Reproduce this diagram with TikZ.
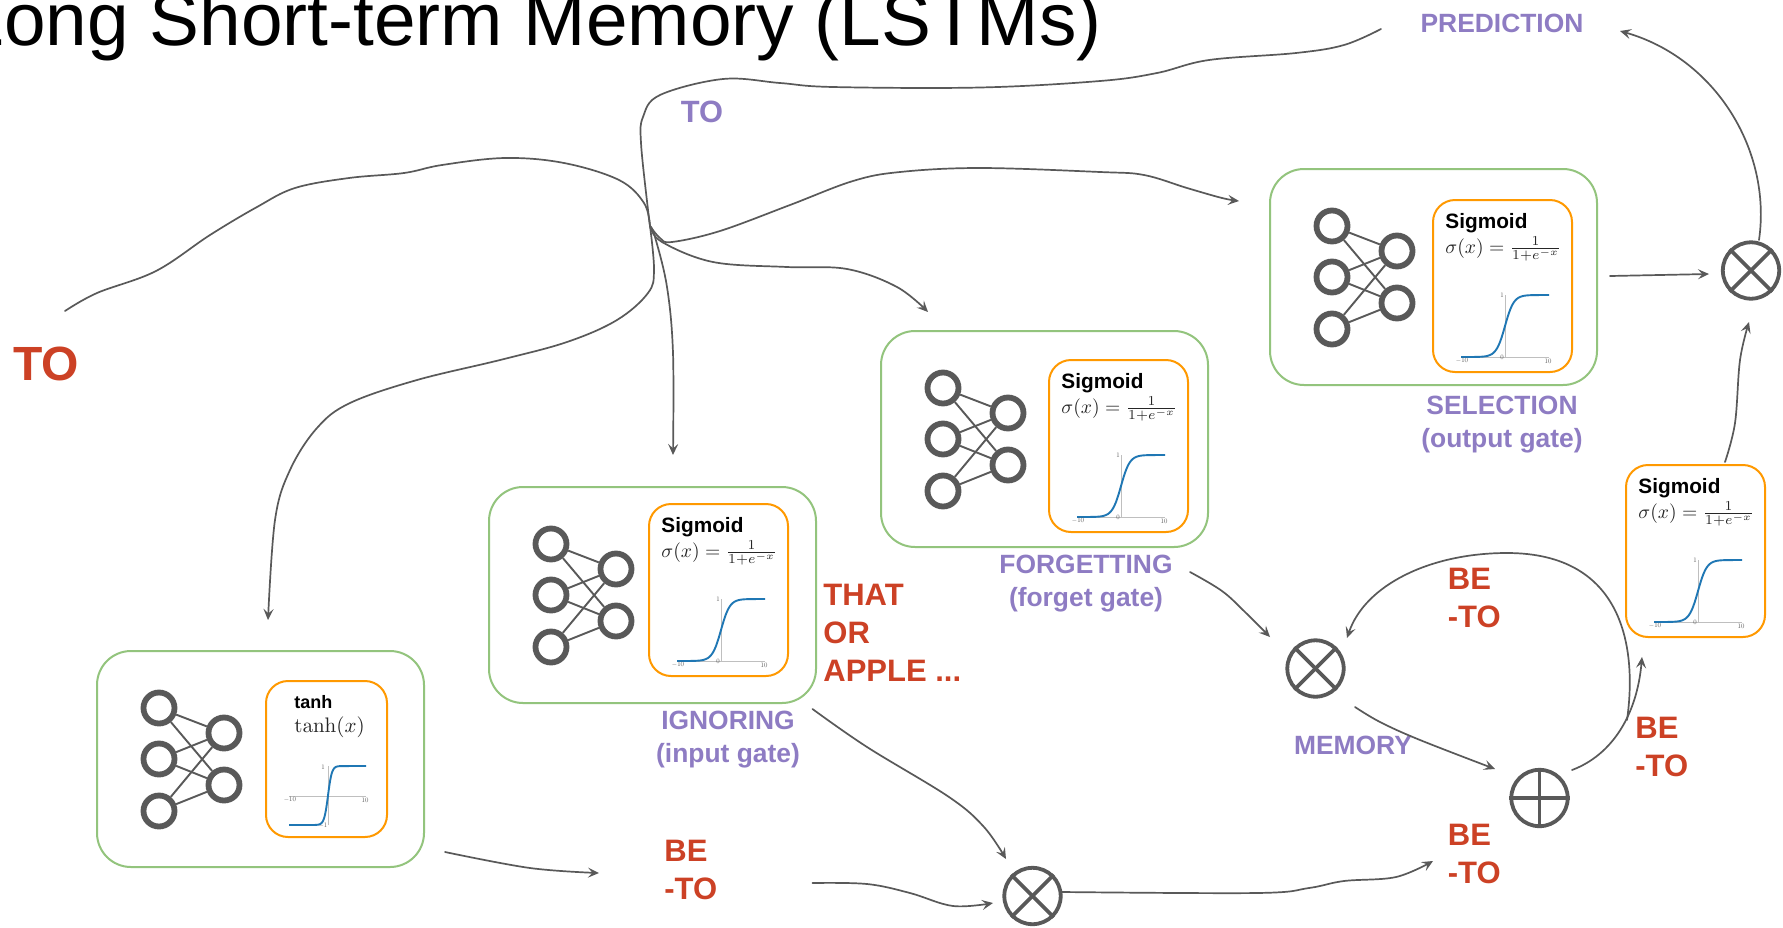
\documentclass[tikz,border=0pt]{standalone}
\usepackage[no-math]{fontspec}
\setmainfont{Liberation Sans}
\usetikzlibrary{arrows.meta}
\definecolor{gpurple}{HTML}{8E7CC3}
\definecolor{gred}{HTML}{CC4125}
\definecolor{ggreen}{HTML}{93C47D}
\definecolor{gorange}{HTML}{FF9900}
\definecolor{ggrey}{HTML}{595959}
\definecolor{gblue}{HTML}{1F77B4}
\tikzset{
  x=0.5pt,y=-0.5pt,
  conn/.style={draw=ggrey,line width=0.85pt,line cap=round},
  arr/.style={conn,-{Stealth[length=5.5pt,width=5pt,inset=2.2pt]}},
  wire/.style={smooth,tension=.6},
  greenbox/.style={draw=ggreen,line width=1pt,rounded corners=17pt,minimum width=163.5pt,minimum height=108pt,anchor=north west,inner sep=0pt,outer sep=0pt},
  orangebox/.style={draw=gorange,line width=1pt,rounded corners=11pt,anchor=north west,inner sep=0pt,outer sep=0pt},
  neuron/.style={circle,draw=ggrey,line width=2.9pt,minimum size=15.5pt,inner sep=0pt},
  syn/.style={draw=ggrey,line width=0.95pt},
  opnode/.style={circle,draw=ggrey,line width=1.9pt,minimum size=28.2pt,inner sep=0pt},
  opline/.style={draw=ggrey,line width=1.9pt},
  purplelbl/.style={text=gpurple,font=\fontsize{13.2}{16.4}\selectfont\bfseries,align=center,inner sep=0pt},
  redlbl/.style={text=gred,font=\fontsize{15.5}{19}\selectfont\bfseries,align=left,inner sep=0pt},
  fnname/.style={font=\fontsize{10.4}{12}\selectfont\bfseries,anchor=base west,inner sep=0pt},
  formula/.style={anchor=base west,inner sep=0pt,text=black!85},
  tick/.style={scale=0.34,inner sep=0pt,text=ggrey},
  axisline/.style={draw=black!25,line width=0.35pt},
  curve/.style={draw=gblue,line width=0.95pt},
}
\newcommand{\network}[1]{%
  \node[neuron] (#1a) at (62,57) {};
  \node[neuron] (#1b) at (62,108) {};
  \node[neuron] (#1c) at (62,160) {};
  \node[neuron] (#1d) at (127,82) {};
  \node[neuron] (#1e) at (127,134) {};
  \foreach \p in {a,b,c}{\foreach \q in {d,e}{\draw[syn] (#1\p) -- (#1\q);}}
}
\newcommand{\sigpanel}[1]{%
  \node[orangebox,minimum width=69.5pt,minimum height=86pt] (#1box) at (0,0) {};
  \node[fnname] (#1name) at (12,28) {Sigmoid};
  \node[formula,scale=0.98] (#1eq) at (12,53) {$\sigma(x)=\frac{1}{1+e^{-x}}$};
  \draw[axisline] (28,157) -- (116,157);
  \draw[axisline] (72,157) -- (72,95);
  \draw[curve] (28,157) -- plot[domain=-7:7,samples=70,smooth] ({72+4.4*\x},{157-62/(1+exp(-\x))}) -- (116,95);
  \node[tick] (#1t1) at (29,161) {$-10$};
  \node[tick] (#1t2) at (69,157) {$0$};
  \node[tick] (#1t3) at (115,161) {$10$};
  \node[tick] (#1t4) at (69,95) {$1$};
}
\begin{document}
\begin{tikzpicture}
\useasboundingbox (0,0) rectangle (1783,927);
\clip (0,0) rectangle (1783,927);
\fill[white] (0,0) rectangle (1783,927);

\node[anchor=base east,inner sep=0pt,font=\fontsize{37.4}{40}\selectfont] (title) at (1102,45) {Long Short-term Memory (LSTMs)};

% tanh gate
\begin{scope}[shift={(97,651)}]
  \node[greenbox] (tgreen) at (0,0) {};
  \network{tn}
\end{scope}
\begin{scope}[shift={(266,681)}]
  \node[orangebox,minimum width=60.5pt,minimum height=78pt] (tbox) at (0,0) {};
  \node[font=\fontsize{9}{11}\selectfont\bfseries,anchor=base west,inner sep=0pt] (tname) at (28,27) {tanh};
  \node[formula,scale=1.05] (teq) at (28,51) {$\tanh(x)$};
  \draw[axisline] (23,115) -- (100,115);
  \draw[axisline] (62,144) -- (62,85);
  \draw[curve] (23,144) -- plot[domain=-3.5:3.5,samples=50,smooth] ({62+3.85*\x},{144-59/(1+exp(-2*\x))}) -- (100,85);
  \node[tick] (tt1) at (24,119) {$-10$};
  \node[tick] (tt2) at (99,119) {$10$};
  \node[tick] (tt3) at (57,86) {$1$};
  \node[tick] (tt4) at (57,145) {$-1$};
\end{scope}

% input gate
\begin{scope}[shift={(489,487)}]
  \node[greenbox] (igreen) at (0,0) {};
  \network{in}
\end{scope}
\begin{scope}[shift={(649,504)}]\sigpanel{ip}\end{scope}

% forget gate
\begin{scope}[shift={(881,331)}]
  \node[greenbox] (fgreen) at (0,0) {};
  \network{fn}
\end{scope}
\begin{scope}[shift={(1049,360)}]\sigpanel{fp}\end{scope}

% output gate
\begin{scope}[shift={(1270,169)}]
  \node[greenbox] (ogreen) at (0,0) {};
  \network{on}
\end{scope}
\begin{scope}[shift={(1433,200)}]\sigpanel{op}\end{scope}

% standalone sigmoid
\begin{scope}[shift={(1626,465)}]\sigpanel{sp}\end{scope}

% operators
\node[opnode] (mulO) at (1751,270.5) {};
\node[opnode] (mulM) at (1315.5,668.5) {};
\node[opnode] (mulB) at (1032.5,896) {};
\node[opnode] (addN) at (1539.5,798) {};
\foreach \n in {mulO,mulM,mulB}{
  \draw[opline] (\n.north west) -- (\n.south east);
  \draw[opline] (\n.north east) -- (\n.south west);
}
\draw[opline] (addN.north) -- (addN.south);
\draw[opline] (addN.west) -- (addN.east);

% labels
\node[text=gred,font=\fontsize{24}{27}\selectfont\bfseries,inner sep=0pt] (toRed) at (46,364) {TO};
\node[purplelbl,font=\fontsize{15.4}{18}\selectfont\bfseries] (toPurple) at (702,112) {TO};
\node[purplelbl] (lPred) at (1502,23) {PREDICTION};
\node[purplelbl] (lSel) at (1502,424.5) {SELECTION\\(output gate)};
\node[purplelbl] (lFor) at (1086,583.5) {FORGETTING\\(forget gate)};
\node[purplelbl] (lIgn) at (728,739.5) {IGNORING\\(input gate)};
\node[purplelbl,font=\fontsize{13.2}{16}\selectfont\bfseries] (lMem) at (1353,745.5) {MEMORY};
\node[redlbl,anchor=west] (lThat) at (823,633) {THAT\\OR\\APPLE ...};
\node[redlbl,anchor=west] (be1) at (664,870) {BE\\-TO};
\node[redlbl,anchor=west] (be2) at (1447.5,598) {BE\\-TO};
\node[redlbl,anchor=west] (be3) at (1635,747) {BE\\-TO};
\node[redlbl,anchor=west] (be4) at (1447.5,854) {BE\\-TO};

% free ends
\coordinate (toStart) at (65,311);
\coordinate (hub) at (650,226);
\coordinate (predEnd) at (1381,29);
\coordinate (tanhEnd) at (268,620);
\coordinate (ignEnd) at (673,455);
\coordinate (forEnd) at (928,312);
\coordinate (selEnd) at (1239,201);
\coordinate (tanhOut) at (445,852);
\coordinate (beIn) at (599,873);
\coordinate (beOut) at (812.5,883);
\coordinate (mulBIn) at (993,903);
\coordinate (ignOut) at (812.5,709);
\coordinate (mulBIn2) at (1006,859);
\coordinate (mulBOut) at (1062,892);
\coordinate (be4In) at (1433,861);
\coordinate (forOut) at (1190,572);
\coordinate (mulMIn) at (1270,637);
\coordinate (loopStart) at (1627,720);
\coordinate (loopTop) at (1507,553);
\coordinate (mulMIn2) at (1347,638);
\coordinate (addOut) at (1572,770);
\coordinate (spIn) at (1642,657);
\coordinate (memOut) at (1355,707);
\coordinate (addIn) at (1495,769);
\coordinate (selOut) at (1610,276);
\coordinate (mulOIn) at (1709,274);
\coordinate (spOut) at (1725,462);
\coordinate (mulOIn2) at (1749,322);
\coordinate (mulOOut) at (1759,240);
\coordinate (predIn) at (1620,31);

% input wire to the hub
\draw[conn] plot[wire] coordinates {(toStart) (97,293) (156,271) (210,235) (257,207) (295,188) (349,178) (404,173) (442,165) (505,158) (564,163) (619,180) (644,203) (hub)};
% loop to prediction, from the hub
\draw[conn] plot[wire] coordinates {(hub) (648,210) (641,143) (643,117) (660,95) (723,79) (780,83) (833,87) (980,87.5) (1100,81) (1157,73) (1209,60) (1296,53) (1344,45) (predEnd)};
% hub to tanh gate
\draw[arr] plot[wire] coordinates {(hub) (654,270) (648,293) (617,320) (567,342) (500,360) (417,380) (350,403) (317,428) (290,470) (275,520) (tanhEnd)};
% hub to output gate
\draw[arr] plot[wire] coordinates {(hub) (660,238) (672,242) (720,231) (790,205) (853,181) (900,172) (980,168) (1100,172) (1144,175) (1187,188) (1222,198) (selEnd)};
% hub to forget gate
\draw[arr] plot[wire] coordinates {(hub) (662,242) (713,262) (787,267) (847,269) (897,287) (forEnd)};
% hub to input gate
\draw[arr] plot[wire] coordinates {(hub) (655,237) (667,287) (673,353) (ignEnd)};
% lower path
\draw[arr] plot[wire] coordinates {(tanhOut) (530,868) (beIn)};
\draw[arr] plot[wire] coordinates {(beOut) (867,884) (910,893) (953,906) (mulBIn)};
\draw[arr] plot[wire] coordinates {(ignOut) (867,747) (949,797) (984,827) (mulBIn2)};
\draw[arr] plot[wire] coordinates {(mulBOut) (1257,893) (1309,888) (1344,881) (1396,877) (be4In)};
\draw[arr] plot[wire] coordinates {(forOut) (1222,591) (1245,612) (mulMIn)};
\draw[arr] (loopStart) .. controls (1637,650) and (1625,553) .. (loopTop) .. controls (1430,553) and (1365,585) .. (mulMIn2);
\draw[arr] (addOut) .. controls (1612,755) and (1637,715) .. (spIn);
\draw[arr] plot[wire] coordinates {(memOut) (1380,722) (1420,740) (addIn)};
\draw[arr] (selOut) -- (mulOIn);
\draw[arr] plot[wire] coordinates {(spOut) (1735,423) (1740,360) (mulOIn2)};
\draw[arr] (mulOOut) .. controls (1772,150) and (1715,58) .. (predIn);
\end{tikzpicture}
\end{document}
